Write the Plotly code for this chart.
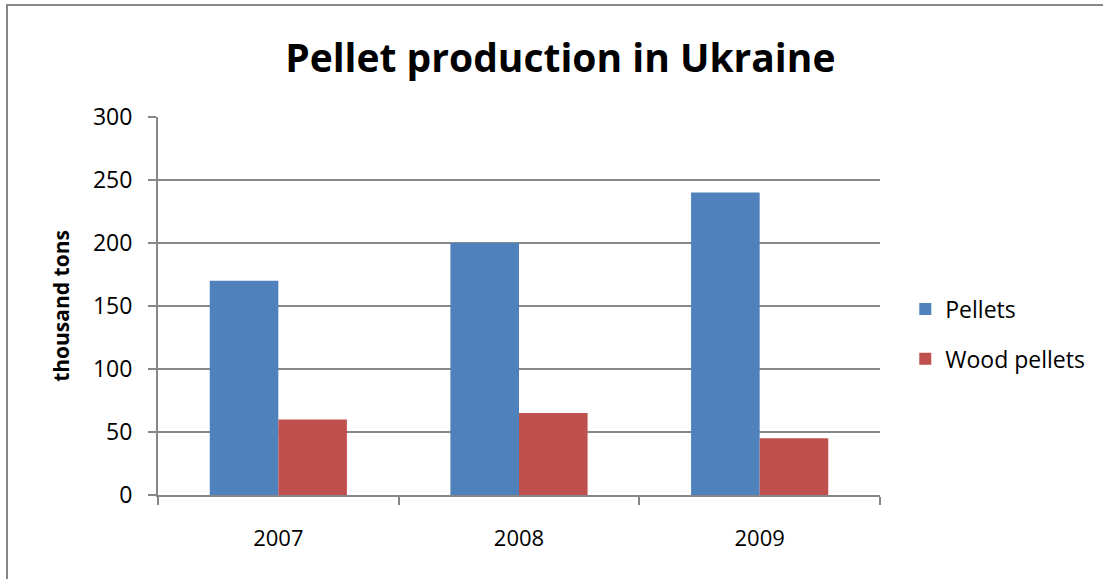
import plotly.graph_objects as go

years = ["2007", "2008", "2009"]
pellets = [170, 200, 240]
wood_pellets = [60, 65, 45]

y_ticks = [0, 50, 100, 150, 200, 250, 300]

FONT = "Open Sans"
GRID = "#878787"

fig = go.Figure()
fig.add_trace(go.Bar(x=years, y=pellets, name="Pellets",
                     marker=dict(color="#4F81BD", line=dict(width=0)),
                     legendgroup="a"))
fig.add_trace(go.Bar(x=years, y=wood_pellets, name="Wood pellets",
                     marker=dict(color="#C0504D", line=dict(width=0)),
                     legendgroup="b"))

fig.update_layout(
    width=1103, height=579,
    margin=dict(l=158, r=223, t=117, b=84),
    paper_bgcolor="white", plot_bgcolor="white",
    barmode="group", bargap=0.43, bargroupgap=0,
    font=dict(family=FONT, color="black", size=22),
    title=dict(text="<b>Pellet production in Ukraine</b>",
               x=0.508, xanchor="center", y=0.9, yanchor="middle",
               font=dict(family=FONT, size=39, color="black")),
    showlegend=True,
    legend=dict(x=1.035, xanchor="left", y=0.426, yanchor="middle",
                font=dict(family=FONT, size=23), traceorder="grouped",
                tracegroupgap=17, bgcolor="rgba(0,0,0,0)"),
    xaxis=dict(type="category", showline=True, linecolor=GRID, linewidth=2,
               ticks="outside", tickson="boundaries", ticklen=8, tickwidth=2,
               tickcolor=GRID, showgrid=False, ticklabelstandoff=23,
               tickfont=dict(family=FONT, size=22)),
    yaxis=dict(range=[0, 300], tickvals=y_ticks, showline=True,
               linecolor=GRID, linewidth=2, ticks="outside", ticklen=8,
               tickwidth=2, tickcolor=GRID, showgrid=True, gridcolor=GRID,
               gridwidth=2, zeroline=False, ticklabelstandoff=11,
               tickfont=dict(family=FONT, size=23),
               title=dict(text="<b>thousand tons</b>", standoff=18,
                          font=dict(family=FONT, size=21))),
    shapes=[dict(type="rect", xref="paper", yref="paper",
                 x0=(7 - 158) / 722, x1=(1110 - 158) / 722,
                 y0=(495 - 590) / 378, y1=(495 - 5) / 378,
                 line=dict(color=GRID, width=2), fillcolor="rgba(0,0,0,0)",
                 layer="below")],
)

fig.write_html("out.html")
